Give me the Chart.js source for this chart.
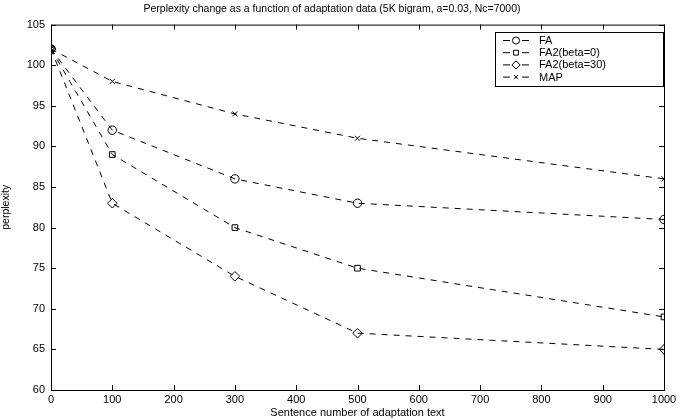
<!DOCTYPE html>
<html><head><meta charset="utf-8">
<script src="https://cdn.jsdelivr.net/npm/chart.js@4/dist/chart.umd.min.js"></script>
<style>html,body{margin:0;padding:0;background:#fff}#wrap{width:680px;height:420px}</style>
</head><body><div id="wrap"><canvas id="c" width="680" height="420"></canvas></div>
<script>
const titleText = 'Perplexity change as a function of adaptation data (5K bigram, a=0.03, Nc=7000)';
const xLabel = 'Sentence number of adaptation text';
const yLabel = 'perplexity';
const xValues = [0, 100, 300, 500, 1000];
const seriesNames = ['FA', 'FA2(beta=0)', 'FA2(beta=30)', 'MAP'];
const faValues = [102, 92, 86, 83, 81];
const fa2b0Values = [102, 89, 80, 75, 69];
const fa2b30Values = [102, 83, 74, 67, 65];
const mapValues = [102, 98, 94, 91, 86];
const xTicks = [0,100,200,300,400,500,600,700,800,900,1000];
const yTicks = [60,65,70,75,80,85,90,95,100,105];

const styles = [
  {pointStyle:'circle', radius:4.2},
  {pointStyle:'rect', radius:4},
  {pointStyle:'rectRot', radius:4.8},
  {pointStyle:'crossRot', radius:3.5}
];
const allVals = [faValues, fa2b0Values, fa2b30Values, mapValues];
const FONT = 'Liberation Sans, Arial, Helvetica, sans-serif';

const datasets = allVals.map((vals, i) => ({
  label: seriesNames[i],
  data: xValues.map((x, j) => ({x, y: vals[j]})),
  showLine: true,
  borderColor: '#000',
  borderWidth: 1,
  borderDash: [6, 6],
  pointStyle: styles[i].pointStyle,
  pointRadius: styles[i].radius,
  pointBackgroundColor: 'rgba(255,255,255,0)',
  pointBorderColor: '#000',
  pointBorderWidth: 1,
  fill: false
}));

const framePlugin = {
  id: 'frame',
  afterDatasetsDraw(chart) {
    const {ctx, chartArea: a, scales} = chart;
    ctx.save();
    ctx.strokeStyle = '#000';
    ctx.lineWidth = 1;
    ctx.strokeRect(a.left + 0.5, a.top + 0.5, a.right - a.left, a.bottom - a.top);
    const tl = 5;
    ctx.beginPath();
    scales.x.ticks.forEach(t => {
      const px = Math.round(scales.x.getPixelForValue(t.value)) + 0.5;
      ctx.moveTo(px, a.bottom); ctx.lineTo(px, a.bottom - tl);
      ctx.moveTo(px, a.top); ctx.lineTo(px, a.top + tl);
    });
    scales.y.ticks.forEach(t => {
      const py = Math.round(scales.y.getPixelForValue(t.value)) + 0.5;
      ctx.moveTo(a.left, py); ctx.lineTo(a.left + tl, py);
      ctx.moveTo(a.right, py); ctx.lineTo(a.right - tl, py);
    });
    ctx.stroke();
    // legend
    const lx = 495, ly = 32, lw = 168, lh = 54;
    ctx.fillStyle = '#fff';
    ctx.fillRect(lx, ly, lw, lh);
    ctx.strokeRect(lx + 0.5, ly + 0.5, lw, lh);
    ctx.font = '11px ' + FONT;
    ctx.textBaseline = 'middle';
    ctx.textAlign = 'left';
    chart.data.datasets.forEach((ds, i) => {
      const yy = ly + 8.5 + i * 12.2;
      ctx.strokeStyle = '#000';
      ctx.lineWidth = 1;
      ctx.setLineDash([]);
      ctx.beginPath();
      ctx.moveTo(503, yy); ctx.lineTo(510, yy);
      ctx.moveTo(522, yy); ctx.lineTo(529, yy);
      ctx.stroke();
      ctx.fillStyle = 'rgba(255,255,255,0)';
      Chart.helpers.drawPoint(ctx, {pointStyle: ds.pointStyle, radius: ds.pointRadius * 0.85, borderWidth: 1}, 516, yy);
      ctx.fillStyle = '#000';
      ctx.fillText(ds.label, 539, yy + 0.5);
    });
    ctx.restore();
  }
};

new Chart(document.getElementById('c'), {
  type: 'scatter',
  data: {datasets},
  options: {
    responsive: false,
    animation: false,
    devicePixelRatio: 1,
    layout: {padding: {left: 0, right: 16, top: 0, bottom: 0}},
    plugins: {
      legend: {display: false},
      tooltip: {enabled: false},
      title: {display: true, text: titleText, color: '#000',
        font: {family: FONT, size: 10.5, weight: 'normal'}, padding: {top: 3, bottom: 9}}
    },
    scales: {
      x: {
        type: 'linear', min: 0, max: 1000,
        afterBuildTicks(s) { s.ticks = xTicks.map(v => ({value: v})); },
        afterFit(s) { s.height = 30; },
        grid: {display: false, drawTicks: false},
        border: {display: false},
        ticks: {color: '#000', font: {family: FONT, size: 11}, padding: 3, maxRotation: 0, autoSkip: false,
          callback: v => String(v)},
        title: {display: true, text: xLabel, color: '#000', font: {family: FONT, size: 11}, padding: {top: 0, bottom: 0}}
      },
      y: {
        type: 'linear', min: 60, max: 105,
        afterBuildTicks(s) { s.ticks = yTicks.map(v => ({value: v})); },
        afterFit(s) { s.width = 51; },
        grid: {display: false, drawTicks: false},
        border: {display: false},
        ticks: {color: '#000', font: {family: FONT, size: 11}, padding: 6, autoSkip: false,
          callback: v => String(v)},
        title: {display: true, text: yLabel, color: '#000', font: {family: FONT, size: 10.5}, padding: {top: 0, bottom: 2}}
      }
    }
  },
  plugins: [framePlugin]
});
</script></body></html>
